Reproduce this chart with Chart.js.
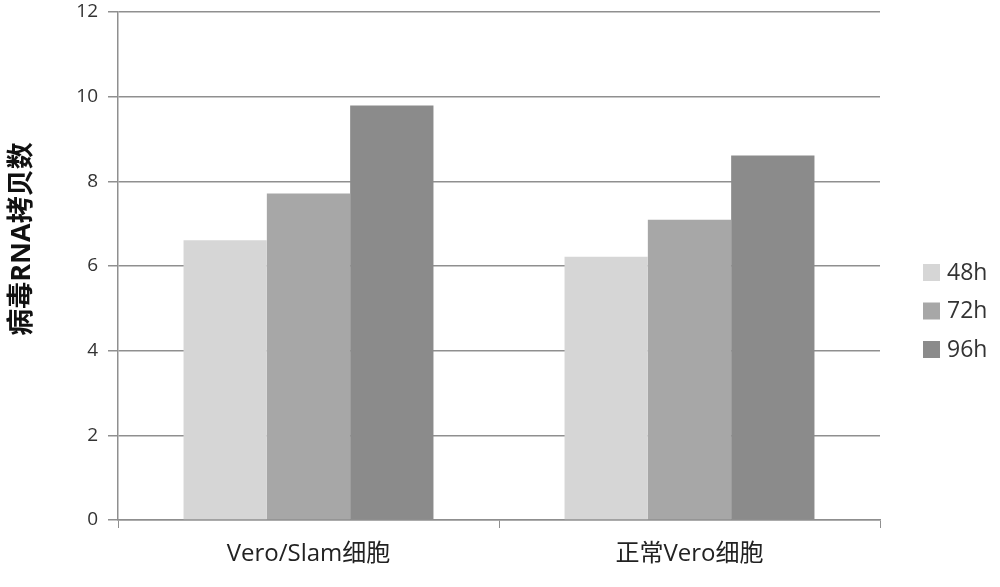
<!DOCTYPE html>
<html>
<head>
<meta charset="utf-8">
<script src="https://cdn.jsdelivr.net/npm/chart.js@4.4.1/dist/chart.umd.min.js"></script>
<style>
  html, body { margin: 0; padding: 0; background: #fff; }
  #wrap { width: 1000px; height: 587px; }
</style>
</head>
<body>
<div id="wrap"><canvas id="chart" width="1000" height="587"></canvas></div>
<script>
// categories and series
const categories = ['Vero/Slam细胞', '正常Vero细胞'];
const seriesNames = ['48h', '72h', '96h'];
const values48 = [6.61, 6.22];
const values72 = [7.71, 7.09];
const values96 = [9.79, 8.61];
const yTicks = [0, 2, 4, 6, 8, 10, 12];

const colors = ['#d6d6d6', '#a7a7a7', '#8b8b8b'];
const gridColor = '#8f8f8f';
const fontFamily = "'Open Sans', 'Noto Sans CJK SC', sans-serif";

// legend drawn by hand so the plot area keeps its width
const sideLegend = {
  id: 'sideLegend',
  afterDraw(chart) {
    const ctx = chart.ctx;
    ctx.save();
    ctx.font = "23px " + fontFamily;
    ctx.textBaseline = 'middle';
    chart.data.datasets.forEach((ds, i) => {
      const y = 272 + i * 38.5;
      ctx.fillStyle = ds.backgroundColor;
      ctx.fillRect(923, y - 8, 17, 17);
      ctx.fillStyle = '#333';
      ctx.fillText(ds.label, 947, y + 1);
    });
    ctx.restore();
  }
};

const config = {
  type: 'bar',
  data: {
    labels: categories,
    datasets: [
      { label: seriesNames[0], data: values48, backgroundColor: colors[0] },
      { label: seriesNames[1], data: values72, backgroundColor: colors[1] },
      { label: seriesNames[2], data: values96, backgroundColor: colors[2] }
    ]
  },
  options: {
    responsive: false,
    animation: false,
    layout: { padding: { top: 12, right: 120, left: 0, bottom: 0 } },
    plugins: {
      legend: { display: false },
      tooltip: { enabled: false }
    },
    datasets: {
      bar: { barPercentage: 1, categoryPercentage: 0.656 }
    },
    scales: {
      x: {
        grid: { drawOnChartArea: false, drawTicks: true, tickLength: 8, color: gridColor, offset: true },
        border: { color: gridColor, width: 1.5 },
        ticks: { color: '#222', font: { size: 24, family: fontFamily }, padding: 12 },
        afterFit(scale) { scale.height = 67; }
      },
      y: {
        min: 0,
        max: 12,
        afterBuildTicks(scale) { scale.ticks = yTicks.map(v => ({ value: v })); },
        grid: { color: gridColor, lineWidth: 1.5, tickLength: 10 },
        border: { color: gridColor, width: 1.5 },
        ticks: { color: '#333', font: { size: 19, family: fontFamily }, padding: 10 },
        title: {
          display: true,
          // leading ideographic spaces lift the title a little, as in the original
          text: '\u3000\u3000病毒RNA拷贝数',
          color: '#111',
          font: { size: 27, weight: 'bold', family: fontFamily },
          padding: { top: 6, bottom: 10 }
        },
        afterFit(scale) {
          scale.width = 118;
          scale.paddingTop = 0;
          scale.paddingBottom = 0;
        }
      }
    }
  },
  plugins: [sideLegend]
};

new Chart(document.getElementById('chart'), config);
</script>
</body>
</html>
